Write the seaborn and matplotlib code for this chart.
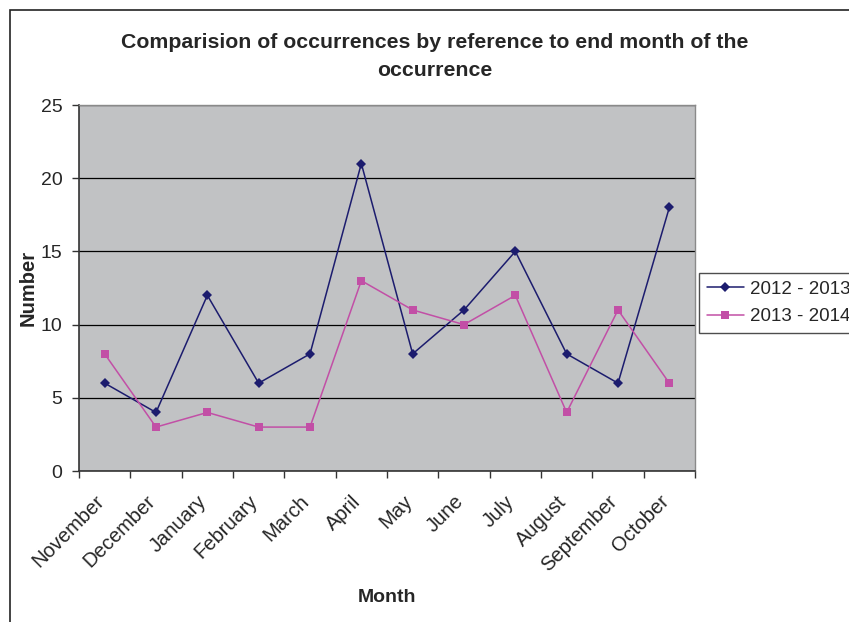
import matplotlib
matplotlib.use("Agg")
import matplotlib.pyplot as plt
import seaborn as sns
import pandas as pd
import numpy as np
from matplotlib.patches import Rectangle

months = ["November", "December", "January", "February", "March", "April",
          "May", "June", "July", "August", "September", "October"]
s2012_2013 = [6, 4, 12, 6, 8, 21, 8, 11, 15, 8, 6, 18]
s2013_2014 = [8, 3, 4, 3, 3, 13, 11, 10, 12, 4, 11, 6]
series_names = ["2012 - 2013", "2013 - 2014"]
yticks = [0, 5, 10, 15, 20, 25]

sns.set_theme(style="white")
plt.rcParams["font.family"] = ["Liberation Sans", "DejaVu Sans"]

df = pd.DataFrame({
    "idx": list(range(len(months))) * 2,
    "Number": s2012_2013 + s2013_2014,
    "series": [series_names[0]] * len(months) + [series_names[1]] * len(months),
})

W, H = 849, 622
fig = plt.figure(figsize=(W / 100, H / 100), dpi=100)
fig.patch.set_facecolor("white")
# chart-area border (cropped on right/bottom)
fig.add_artist(Rectangle((10 / W, -0.1), 2, 1 - 10 / H + 0.1, transform=fig.transFigure,
                         fill=False, edgecolor="#222222", linewidth=1.2))

ax = fig.add_axes([79 / W, 1 - 471 / H, (695 - 79) / W, (471 - 105) / H])
ax.set_facecolor("#c1c2c4")

palette = {series_names[0]: "#1c1c6e", series_names[1]: "#c24fa6"}
markers = {series_names[0]: "D", series_names[1]: "s"}
sns.lineplot(data=df, x="idx", y="Number", hue="series", style="series",
             palette=palette, markers=markers, dashes=False, markersize=5.5,
             linewidth=1.1, markeredgewidth=0, ax=ax, zorder=3)

ax.set_xlim(-0.5, len(months) - 0.5)
ax.set_ylim(0, 25)
ax.set_yticks(yticks)
ax.yaxis.grid(True, color="black", linewidth=0.9)
ax.set_axisbelow(True)
# label anchors sit slightly left of each category centre (Excel-style)
ax.set_xticks(np.arange(len(months)) - 0.2)
ax.set_xticklabels(months, rotation=45, ha="right", va="top", rotation_mode="anchor", fontsize=14.5)
ax.set_xticks(np.arange(-0.5, len(months)), minor=True)
ax.tick_params(axis="x", which="major", length=0, pad=15)
ax.tick_params(axis="x", which="minor", length=5, width=1, color="#333333", direction="out", bottom=True)
ax.tick_params(axis="y", length=5, width=1, color="#333333", direction="out", left=True, labelsize=14, pad=7)
for side in ["left", "bottom"]:
    ax.spines[side].set_color("#333333")
    ax.spines[side].set_linewidth(1.2)
for side in ["top", "right"]:
    ax.spines[side].set_color("#8a8a8a")
    ax.spines[side].set_linewidth(1.0)

ax.set_xlabel("")
ax.set_ylabel("")
fig.text(28 / W, 1 - 288 / H, "Number", rotation=90, ha="center", va="center",
         fontsize=14.5, fontweight="bold")
fig.text(387 / W, 1 - 597 / H, "Month", ha="center", va="center",
         fontsize=14, fontweight="bold")
fig.text(435 / W, 1 - 56 / H, "Comparision of occurrences by reference to end month of the\noccurrence",
         ha="center", va="center", fontsize=15.3, fontweight="bold", linespacing=1.6)

ax.get_legend().remove()
handles, labels = ax.get_legend_handles_labels()
leg = fig.legend(handles, labels, loc="center left", bbox_to_anchor=(699 / W, 1 - 303 / H),
                 frameon=True, fancybox=False, fontsize=13.5, handlelength=2.0,
                 borderpad=0.4, labelspacing=0.55, handletextpad=0.3, borderaxespad=0)
leg.get_frame().set_edgecolor("#222222")
leg.get_frame().set_linewidth(1.0)

fig.savefig("out.png", dpi=100)
